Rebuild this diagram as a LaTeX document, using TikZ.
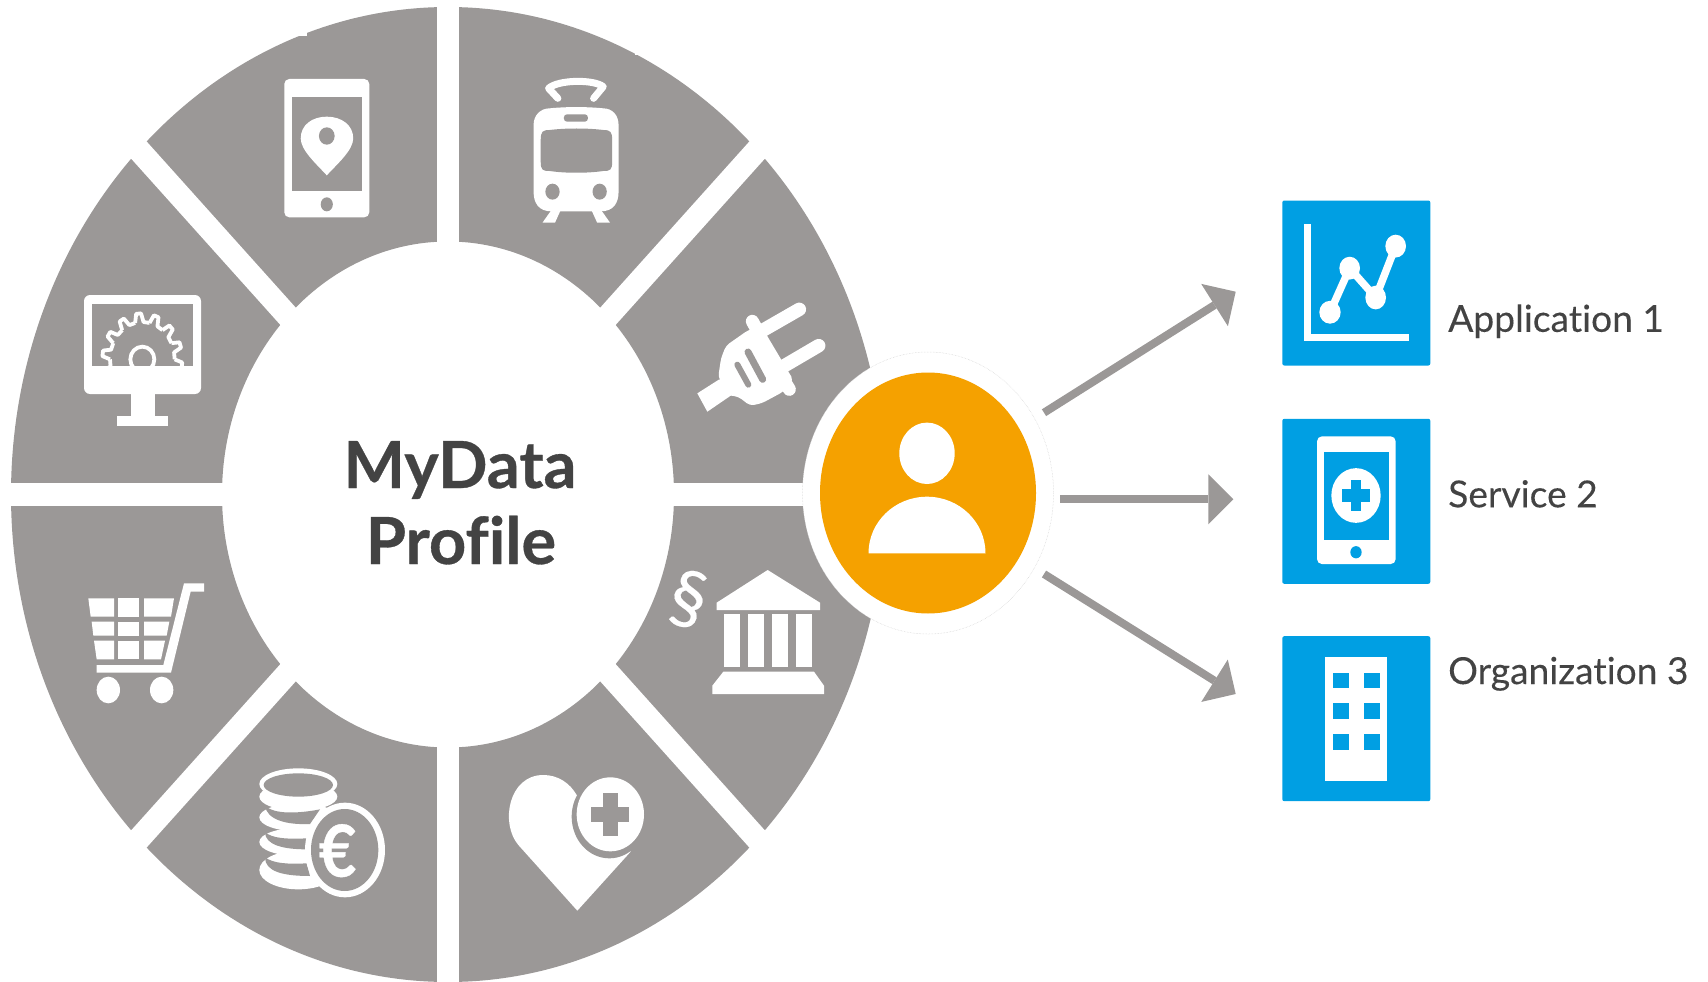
\documentclass[tikz,border=0pt]{standalone}
\usepackage{fontspec}
\setmainfont{Lato}[Ligatures=NoCommon]
\newfontface\titleface{Lato Bold}[FakeBold=0.5,Ligatures=NoCommon]
\newfontface\capface{Lato}[FakeBold=0.2,Ligatures=NoCommon]
\usetikzlibrary{shapes.geometric,arrows.meta}
\definecolor{wheelgrey}{HTML}{9B9897}
\definecolor{personorange}{HTML}{F5A100}
\definecolor{tileblue}{HTML}{009FE3}
\definecolor{inkdark}{HTML}{434343}
\tikzset{
  zoomthree/.style 2 args={shift={(#1,#2)},x=0.33333pt,y=-0.33333pt},
  zoomtop/.style={shift={(130,0)},x=0.35714pt,y=-0.33333pt},
  zoomblue/.style={shift={(1260,180)},x=0.33333pt,y=-0.40816pt},
  tile/.style={rectangle,fill=tileblue,rounded corners=2pt,minimum width=148pt,minimum height=165pt,inner sep=0pt},
  flowarrow/.style={draw=wheelgrey,line width=8pt,-{Triangle[length=25pt,width=50pt,line width=0pt,fill=wheelgrey]}},
  gapline/.style={draw=white,line width=23pt},
  caption/.style={text=inkdark,anchor=base west,inner sep=0pt,font=\capface\fontsize{37.2}{37.2}\selectfont},
  titletext/.style={text=inkdark,anchor=base,inner sep=0pt,font=\titleface\fontsize{65}{65}\selectfont},
  iconw/.style={fill=white},
  icong/.style={fill=wheelgrey},
}
\begin{document}
\begin{tikzpicture}[x=1pt,y=-1pt]
\useasboundingbox (0,0) rectangle (1708,982);
% wheel
\fill[wheelgrey,even odd rule] (448,494.5) ellipse [x radius=437pt,y radius=487.5pt]
                               (448,494.5) ellipse [x radius=226pt,y radius=253pt];
\draw[gapline,line width=21.5pt] (448,0) -- (448,982);
\draw[gapline] (0,494.5) -- (896,494.5);
\draw[gapline] (448-350,494.5-390) -- (448+350,494.5+390);
\draw[gapline] (448-350,494.5+390) -- (448+350,494.5-390);
% small notches on the rim
\fill[white] (296,28) rectangle (306.5,36.5);
\fill[white] (635,46) rectangle (644,55.5);

% phone with pin
\begin{scope}[zoomtop]
\fill[iconw,rounded corners=5pt] (432,237) rectangle (670,652);
\fill[icong] (454,290) rectangle (650,574);
\fill[icong] (551,613) ellipse [x radius=17,y radius=21];
\fill[iconw] (551,526) .. controls (520,490) and (478,450) .. (478,415)
   .. controls (478,375) and (510,350) .. (551,350)
   .. controls (592,350) and (625,375) .. (625,415)
   .. controls (625,450) and (582,490) .. (551,526) -- cycle;
\fill[icong] (551,408) ellipse [x radius=22,y radius=26];
% tram
\draw[white,line width=7pt,line cap=round,line join=round] (1198,295) -- (1172,265)
   .. controls (1200,238) and (1300,238) .. (1325,260) -- (1298,295);
\fill[iconw] (1155,668) -- (1180,630) -- (1206,630) -- (1190,668) -- cycle;
\fill[iconw] (1344,668) -- (1319,630) -- (1292,630) -- (1308,668) -- cycle;
\fill[iconw] (1130,575) .. controls (1130,610) and (1145,634) .. (1180,634)
   -- (1318,634) .. controls (1353,634) and (1368,610) .. (1368,575)
   -- (1368,375) .. controls (1368,345) and (1350,325) .. (1325,325)
   .. controls (1280,320) and (1220,320) .. (1175,325)
   .. controls (1150,325) and (1130,345) .. (1130,375) -- cycle;
\fill[icong] (1150,420) .. controls (1150,395) and (1155,390) .. (1175,390)
   .. controls (1220,384) and (1280,384) .. (1325,390)
   .. controls (1345,390) and (1350,395) .. (1350,420)
   -- (1350,485) .. controls (1350,510) and (1345,513) .. (1325,513)
   .. controls (1280,520) and (1220,520) .. (1175,513)
   .. controls (1155,513) and (1150,510) .. (1150,485) -- cycle;
\fill[icong,rounded corners=3pt] (1215,343) rectangle (1282,365);
\fill[icong] (1183,575) ellipse [x radius=20,y radius=24];
\fill[icong] (1315,575) ellipse [x radius=20,y radius=24];
\end{scope}

% plug and bank
\begin{scope}[zoomthree={660}{280}]
\fill[iconw] (112,340) -- (178,298) -- (215,345) -- (142,395) -- cycle;
\draw[white,line width=13.5pt,line cap=round] (310,150) -- (418,88);
\draw[white,line width=13.5pt,line cap=round] (360,265) -- (476,197);
\fill[iconw,rounded corners=4pt] (183,235) -- (198,197) -- (265,150) -- (305,140) -- (400,300) -- (370,335) -- (305,370) -- (270,377) -- (235,350) -- (200,345) -- (175,290) -- cycle;
\draw[white,line width=13pt,line cap=round] (277,124) -- (300,165);
\draw[white,line width=13pt,line cap=round] (365,290) -- (388,328);
\draw[wheelgrey,line width=6pt,line cap=round] (232,254) -- (265,314);
\draw[wheelgrey,line width=7pt,line cap=round] (264,216) -- (308,298);
% bank
\fill[iconw] (323,870) -- (480,968) -- (480,990) -- (170,990) -- (170,968) -- cycle;
\foreach \cx in {193,265,337,408}{\fill[iconw] (\cx,1002) rectangle (\cx+48,1162);}
\fill[iconw] (190,1175) -- (462,1175) -- (492,1217) -- (492,1242) -- (157,1242) -- (157,1217) -- cycle;
\node[text=white,inner sep=0pt,rotate=-14,font=\capface\fontsize{73}{73}\selectfont] (para) at (85,957) {§};
\end{scope}

% monitor
\begin{scope}[zoomthree={60}{270}]
\fill[iconw,rounded corners=6pt] (72,75) rectangle (423,372);
\fill[icong] (97,103) rectangle (400,287);
\begin{scope}
\clip (97,103) rectangle (400,287);
\begin{scope}[shift={(247,268)}]
\foreach \k in {0,...,13}{
  \pgfmathsetmacro{\ta}{\k*360/14}
  \pgfmathsetmacro{\tb}{\ta+4}
  \pgfmathsetmacro{\tc}{\ta+11}
  \pgfmathsetmacro{\td}{\ta+15}
  \pgfmathsetmacro{\te}{\ta+360/14}
  \draw[white,line width=3.8pt,line join=round]
    (\ta:97 and 112) -- (\tb:120 and 138) -- (\tc:120 and 138) -- (\td:97 and 112) -- (\te:97 and 112);
}
\draw[white,line width=3.8pt] (0,0) ellipse [x radius=36,y radius=38];
\end{scope}
\end{scope}
\fill[iconw] (212,372) rectangle (285,440);
\fill[iconw] (172,438) rectangle (323,467);
\end{scope}

% cart and coins
\begin{scope}[zoomthree={70}{570}]
\fill[iconw] (55,85) -- (132,85) -- (132,140) -- (62,140) -- cycle;
\fill[iconw] (144,85) rectangle (208,140);
\fill[iconw] (222,85) -- (312,85) -- (303,140) -- (222,140) -- cycle;
\fill[iconw] (65,155) -- (132,155) -- (132,197) -- (70,197) -- cycle;
\fill[iconw] (144,155) rectangle (208,197);
\fill[iconw] (222,155) -- (298,155) -- (290,197) -- (222,197) -- cycle;
\fill[iconw] (72,212) -- (132,212) -- (132,268) -- (80,268) -- cycle;
\fill[iconw] (144,212) rectangle (208,268);
\fill[iconw] (222,212) -- (285,212) -- (273,268) -- (222,268) -- cycle;
\fill[iconw] (80,285) -- (280,285) -- (342,40) -- (402,40) -- (402,65) -- (362,65) -- (303,308) -- (80,308) -- cycle;
\fill[iconw] (115,360) ellipse [x radius=35,y radius=40];
\fill[iconw] (275,360) ellipse [x radius=35,y radius=40];
% coins
\fill[iconw] (685,642) ellipse [x radius=117,y radius=47];
\fill[iconw] (685,680) ellipse [x radius=117,y radius=42];
\fill[iconw] (685,742) ellipse [x radius=117,y radius=42];
\fill[iconw] (685,816) ellipse [x radius=117,y radius=42];
\fill[iconw] (685,900) ellipse [x radius=117,y radius=58];
\fill[icong] (685,645) ellipse [x radius=104,y radius=35];
\fill[icong] (585,706) .. controls (610,735) and (690,730) .. (750,718) -- (720,762)
   .. controls (650,765) and (590,750) .. (585,706) -- cycle;
\fill[icong] (585,786) .. controls (605,805) and (650,808) .. (710,805) -- (710,838)
   .. controls (640,838) and (585,825) .. (585,786) -- cycle;
\fill[icong] (585,862) .. controls (610,880) and (650,883) .. (710,880) -- (720,918)
   .. controls (640,918) and (585,905) .. (585,862) -- cycle;
\fill[iconw] (825,840) ellipse [x radius=120,y radius=142];
\fill[icong] (824,840) ellipse [x radius=101,y radius=123];
\node[text=white,inner sep=0pt,xscale=0.9,font=\titleface\fontsize{72}{72}\selectfont] (euro) at (803,842) {€};
\end{scope}

% heart
\begin{scope}[zoomthree={480}{550}]
\fill[iconw] (292,1082) -- (115,885) .. controls (60,820) and (85,675) .. (190,675)
   .. controls (235,675) and (270,700) .. (290,735) -- (400,790) -- (452,905) -- cycle;
\fill[icong] (388,800) ellipse [x radius=113,y radius=125];
\fill[iconw] (391,793) ellipse [x radius=101,y radius=111];
\fill[icong] (369,730) rectangle (413,858);
\fill[icong] (333,770) rectangle (448,817);
\end{scope}

% title
\node[titletext] (title1) at (460,488) {MyData};
\node[titletext] (title2) at (461,564) {Profile};

% person
\node[ellipse,draw=black!18,line width=0.5pt,densely dotted,fill=white,minimum width=251pt,minimum height=282pt,inner sep=0pt] (personring) at (928,493) {};
\node[ellipse,fill=personorange,minimum width=216pt,minimum height=241pt,inner sep=0pt] (person) at (928,493) {};
\fill[white] (927,453.3) ellipse [x radius=27.7pt,y radius=30.7pt];
\fill[white] (868.5,553.3) arc [start angle=180,end angle=0,x radius=58.5pt,y radius=56.6pt] -- cycle;

% tiles
\node[tile] (app) at (1356.3,283) {};
\node[tile] (svc) at (1356.3,501.3) {};
\node[tile] (org) at (1356.3,718.7) {};
\begin{scope}[zoomblue]
% chart
\fill[white] (132,108) rectangle (152,395);
\fill[white] (132,378) rectangle (447,395);
\draw[white,line width=7.5pt,line join=round] (210,324) -- (269,216) -- (347,288) -- (407,162);
\fill[white] (210,324) ellipse [x radius=32,y radius=28];
\fill[white] (269,216) ellipse [x radius=31,y radius=28];
\fill[white] (347,288) ellipse [x radius=31,y radius=29];
\fill[white] (407,162) ellipse [x radius=31,y radius=28];
% tablet
\fill[white,rounded corners=5pt] (171,628) rectangle (407,941);
\fill[tileblue] (193,667) rectangle (386,882);
\fill[tileblue] (288,912) ellipse [x radius=17,y radius=15];
\fill[white] (288,773) ellipse [x radius=74,y radius=67];
\fill[tileblue] (273,735) rectangle (304,811);
\fill[tileblue] (247,758) rectangle (331,790);
% building
\fill[white] (194,1169) rectangle (382,1472);
\foreach \wx in {219,312}{\foreach \wy in {1207,1282,1358}{
  \fill[tileblue] (\wx,\wy) rectangle (\wx+47,\wy+38);}}
\end{scope}

% captions
\node[caption] (capapp) at (1448,331.8) {Application 1};
\node[caption] (capsvc) at (1448,507.3) {Service 2};
\node[caption] (caporg) at (1448,684) {Organization 3};

% connectors
\coordinate (tailA) at (1044,412.7);
\coordinate (tipA) at (1235.7,291.7);
\coordinate (tailB) at (1060,499.3);
\coordinate (tipB) at (1233.3,499.3);
\coordinate (tailC) at (1044,574);
\coordinate (tipC) at (1235.7,694);
\draw[flowarrow] (tailA) -- (tipA);
\draw[flowarrow] (tailB) -- (tipB);
\draw[flowarrow] (tailC) -- (tipC);
\end{tikzpicture}
\end{document}
